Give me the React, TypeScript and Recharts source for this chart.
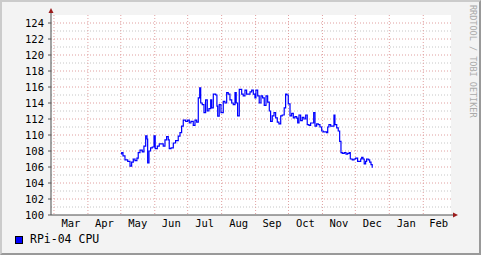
import { LineChart, Line, XAxis, YAxis, CartesianGrid } from "recharts";

const SERIES_NAME = "RPi-04 CPU";

// x = days since 1 Mar, y = value
const DAYS = [
  61.1, 61.8, 63.0, 64.8, 67.3, 69.4, 70.9, 72.4, 73.9, 75.7, 76.9, 78.5, 80.6, 82.1, 83.7, 84.9, 85.5, 86.7, 88.2, 89.7,
  91.3, 92.4, 94.3, 96.1, 98.3, 99.7, 101.3, 102.8, 104.3, 105.2, 106.8, 108.9, 111.0, 113.4,
  115.0, 116.5, 118.0, 120.2, 122.0, 123.5, 125.0, 127.1, 128.7, 130.2, 131.7, 133.0, 133.9, 135.3, 136.9, 138.4,
  139.9, 141.4, 143.0, 143.9, 145.4, 147.6, 148.7, 149.4, 150.8, 152.4, 154.5, 156.0, 157.6, 159.0, 160.6, 162.2,
  163.6, 165.2, 166.3, 167.6, 169.1, 171.3, 172.7, 174.3, 175.8, 178.9, 180.4, 181.9, 183.4, 184.3, 185.9, 187.3,
  188.9, 190.4, 191.9, 193.5, 195.0, 196.5, 197.7, 199.2, 200.8, 202.3, 203.8, 205.3, 206.9, 208.3, 210.1, 211.4,
  212.6, 213.8, 215.4, 216.9, 218.4, 219.9, 221.5, 222.4, 223.6, 225.1, 226.6, 228.1, 229.7, 231.1, 232.7, 234.2,
  235.7, 237.0, 238.2, 239.7, 241.2, 242.7, 244.3, 245.7, 248.8, 249.8, 250.9, 252.5, 253.9, 255.5, 256.4, 258.0,
  259.4, 260.7, 261.9, 263.1, 264.9, 266.5, 268.0, 269.5, 270.4, 272.2, 273.8, 275.3, 277.1, 278.3, 279.9, 280.8,
  282.0, 283.1, 284.4, 285.3, 286.8, 288.1, 289.3, 290.4,
];
const CPU = [
  107.65, 107.8, 107.4, 106.9, 106.7, 106.1, 106.6, 107.0, 106.8, 107.1, 107.8, 108.1, 107.9, 108.6, 109.9, 109.5, 106.5, 108.0, 108.4, 108.5,
  109.9, 108.3, 108.6, 108.9, 108.9, 108.6, 109.4, 109.8, 109.4, 108.3, 108.4, 109.0, 109.3, 109.85,
  110.3, 111.1, 111.85, 111.7, 111.85, 111.5, 111.7, 111.2, 111.85, 111.6, 114.65, 115.9, 114.0, 113.8, 112.8, 114.4,
  113.0, 113.3, 114.4, 113.4, 115.1, 115.0, 113.6, 112.35, 113.8, 112.8, 114.2, 114.0, 115.3, 115.1, 114.4, 114.0,
  113.8, 115.3, 114.0, 112.4, 115.7, 115.1, 114.9, 115.6, 115.1, 115.4, 115.6, 115.1, 114.65, 115.6, 114.9, 114.0,
  114.9, 114.65, 113.7, 114.9, 114.1, 113.0, 111.7, 112.4, 112.8, 112.15, 111.6, 111.4, 112.4, 112.5, 113.4, 115.1,
  115.0, 113.9, 112.4, 112.7, 112.15, 112.3, 112.1, 111.5, 112.5, 111.8, 112.2, 112.0, 112.5, 111.3, 111.2, 111.5,
  111.5, 112.8, 111.1, 111.4, 111.3, 111.0, 110.5, 110.4, 110.3, 111.0, 111.3, 111.1, 111.1, 112.5, 111.3, 110.9,
  110.5, 109.2, 107.8, 107.7, 107.8, 107.6, 107.7, 107.8, 107.0, 106.9, 107.0, 107.1, 106.7, 106.7, 107.0, 107.2,
  107.0, 106.4, 106.7, 107.0, 106.9, 106.6, 106.3, 105.9,
];

const MONTHS = ["Mar", "Apr", "May", "Jun", "Jul", "Aug", "Sep", "Oct", "Nov", "Dec", "Jan", "Feb"];
const MONTH_START = [0, 31, 61, 92, 122, 153, 184, 214, 245, 275, 306, 337];
const MONTH_MID = [15.5, 46, 76.5, 107, 137.5, 168.5, 199, 229.5, 260, 290.5, 321.5, 351];
const X_DOMAIN = [-2.7, 362.3];

const Y_MAJOR = [100, 102, 104, 106, 108, 110, 112, 114, 116, 118, 120, 122, 124];
const Y_MINOR = [101, 103, 105, 107, 109, 111, 113, 115, 117, 119, 121, 123];

const data = DAYS.map((d, i) => ({ d, cpu: CPU[i] }));

const MONO = "'DejaVu Sans Mono', monospace";

export default function App() {
  return (
    <div style={{ position: "absolute", left: 0, top: 0, width: 481, height: 255, background: "#f3f3f3", overflow: "hidden" }}>
      <LineChart width={481} height={255} data={data} margin={{ top: 15, right: 30, bottom: 20, left: 0 }}>
        <CartesianGrid vertical={false} horizontalValues={Y_MINOR} stroke="#c6c6c6" strokeDasharray="1 2" fill="#fff" />
        <CartesianGrid horizontalValues={Y_MAJOR.slice(1)} verticalValues={MONTH_START} stroke="#e0a0a0" strokeDasharray="1 2" />
        <XAxis
          xAxisId="grid"
          dataKey="d"
          type="number"
          domain={X_DOMAIN}
          ticks={MONTH_START}
          tick={false}
          tickSize={3}
          tickLine={{ stroke: "#555" }}
          axisLine={false}
          height={0}
        />
        <XAxis
          dataKey="d"
          type="number"
          domain={X_DOMAIN}
          ticks={MONTH_MID}
          tickFormatter={(_v: number, i: number) => MONTHS[i]}
          tickLine={false}
          tickSize={0}
          tickMargin={5}
          axisLine={{ stroke: "#4d4d4d" }}
          tick={{ fill: "#000", fontSize: 10.5, fontFamily: MONO }}
          interval={0}
          height={20}
        />
        <YAxis
          domain={[100, 125]}
          ticks={Y_MAJOR}
          width={51}
          tickSize={3}
          tickMargin={4}
          tickLine={{ stroke: "#555" }}
          axisLine={{ stroke: "#4d4d4d" }}
          tick={{ fill: "#000", fontSize: 10.5, fontFamily: MONO }}
          interval={0}
        />
        <Line
          type="stepAfter"
          dataKey="cpu"
          name={SERIES_NAME}
          stroke="#0000ff"
          strokeWidth={1.2}
          dot={false}
          isAnimationActive={false}
        />
      </LineChart>

      {/* axis extensions + arrows, rrdtool style */}
      <svg width={481} height={255} style={{ position: "absolute", left: 0, top: 0, pointerEvents: "none" }}>
        <line x1={51} y1={15} x2={51} y2={11} stroke="#4d4d4d" />
        <polygon points="48.5,13 53.5,13 51,8" fill="#9b1c1c" />
        <line x1={451} y1={215} x2={454} y2={215} stroke="#4d4d4d" />
        <polygon points="453,212.5 453,217.5 458,215" fill="#9b1c1c" />
      </svg>

      {/* legend */}
      <div style={{ position: "absolute", left: 15, top: 236, width: 6, height: 6, background: "#0000ff", border: "1px solid #000" }} />
      <div style={{ position: "absolute", left: 30, top: 232, fontFamily: MONO, fontSize: 11.5, color: "#000", lineHeight: "14px", whiteSpace: "pre" }}>
        {SERIES_NAME}
      </div>

      {/* watermark */}
      <div
        style={{
          position: "absolute",
          left: 468,
          top: 5,
          writingMode: "vertical-rl",
          fontFamily: MONO,
          fontSize: 8.5,
          color: "#aaa",
          lineHeight: "9px",
          whiteSpace: "pre",
        }}
      >
        RRDTOOL / TOBI OETIKER
      </div>

      {/* 3d frame */}
      <div style={{ position: "absolute", left: 0, top: 0, width: 481, height: 255, boxSizing: "border-box", borderTop: "2px solid #cbcbcb", borderLeft: "2px solid #cbcbcb", borderRight: "2px solid #999", borderBottom: "2px solid #999", pointerEvents: "none" }} />
    </div>
  );
}
